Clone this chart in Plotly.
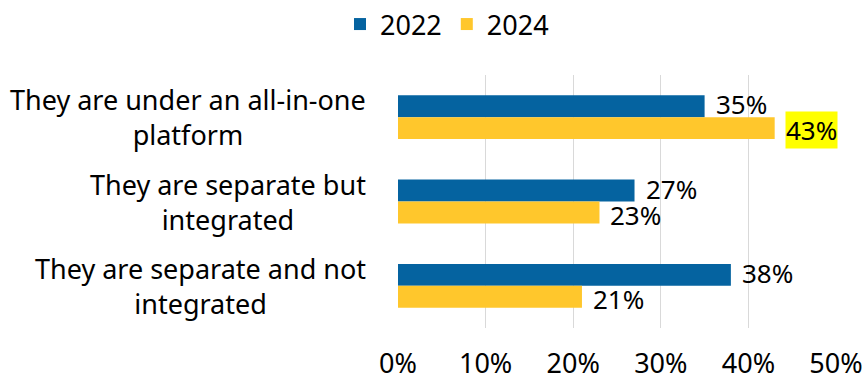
import plotly.graph_objects as go

categories = ["They are under an all-in-one<br>platform",
              "They are separate but<br>integrated",
              "They are separate and not<br>integrated"]
series_names = ["2022", "2024"]
values_2022 = [35, 27, 38]
values_2024 = [43, 23, 21]
colors = ["#0563a0", "#ffc72c"]
tick_vals = [0, 10, 20, 30, 40, 50]
tick_text = ["0%", "10%", "20%", "30%", "40%", "50%"]

FONT = "Noto Sans, Open Sans, sans-serif"
FS = 27

fig = go.Figure()
series = [values_2022, values_2024]
for name, vals, col in zip(series_names, series, colors):
    fig.add_trace(go.Bar(
        y=categories, x=vals, name=name, orientation="h",
        marker=dict(color=col, line=dict(width=0)),
        hoverinfo="skip"))

annotations = []
shifts = [13, -13]
for si, (name, vals) in enumerate(zip(series_names, series)):
    for ci, v in enumerate(vals):
        hl = (name == "2024" and ci == 0)
        annotations.append(dict(
            x=v, y=categories[ci], xref="x", yref="y",
            text=f"{v}%", showarrow=False, xanchor="left",
            xshift=10, yshift=shifts[si],
            font=dict(family=FONT, size=26, color="#000"),
            bgcolor="#ffff00" if hl else None,
            borderpad=0))

for c in categories:
    annotations.append(dict(
        x=-0.068, y=c, xref="paper", yref="y", text=c, showarrow=False,
        xanchor="right", align="center",
        font=dict(family=FONT, size=FS, color="#000")))

fig.update_layout(
    width=868, height=382,
    margin=dict(l=398, r=32, t=75, b=54, autoexpand=False),
    paper_bgcolor="white", plot_bgcolor="white",
    barmode="group", bargap=0.48, bargroupgap=0,
    font=dict(family=FONT, size=FS, color="#000"),
    legend=dict(orientation="h", x=0.515, xref="container", xanchor="center",
                y=1.0, yref="container", yanchor="top",
                font=dict(family=FONT, size=FS), traceorder="normal",
                itemwidth=30),
    xaxis=dict(range=[0, 50], tickvals=tick_vals, ticktext=tick_text,
               showgrid=True, gridcolor="#d9d9d9", gridwidth=1.3,
               zeroline=False, showline=False, ticks="",
               ticklabelstandoff=17, automargin=False,
               tickfont=dict(family=FONT, size=FS)),
    yaxis=dict(autorange="reversed", showticklabels=False, showgrid=False,
               zeroline=False, showline=False, ticks="", automargin=False),
    annotations=annotations,
)

fig.write_html("out.html")
